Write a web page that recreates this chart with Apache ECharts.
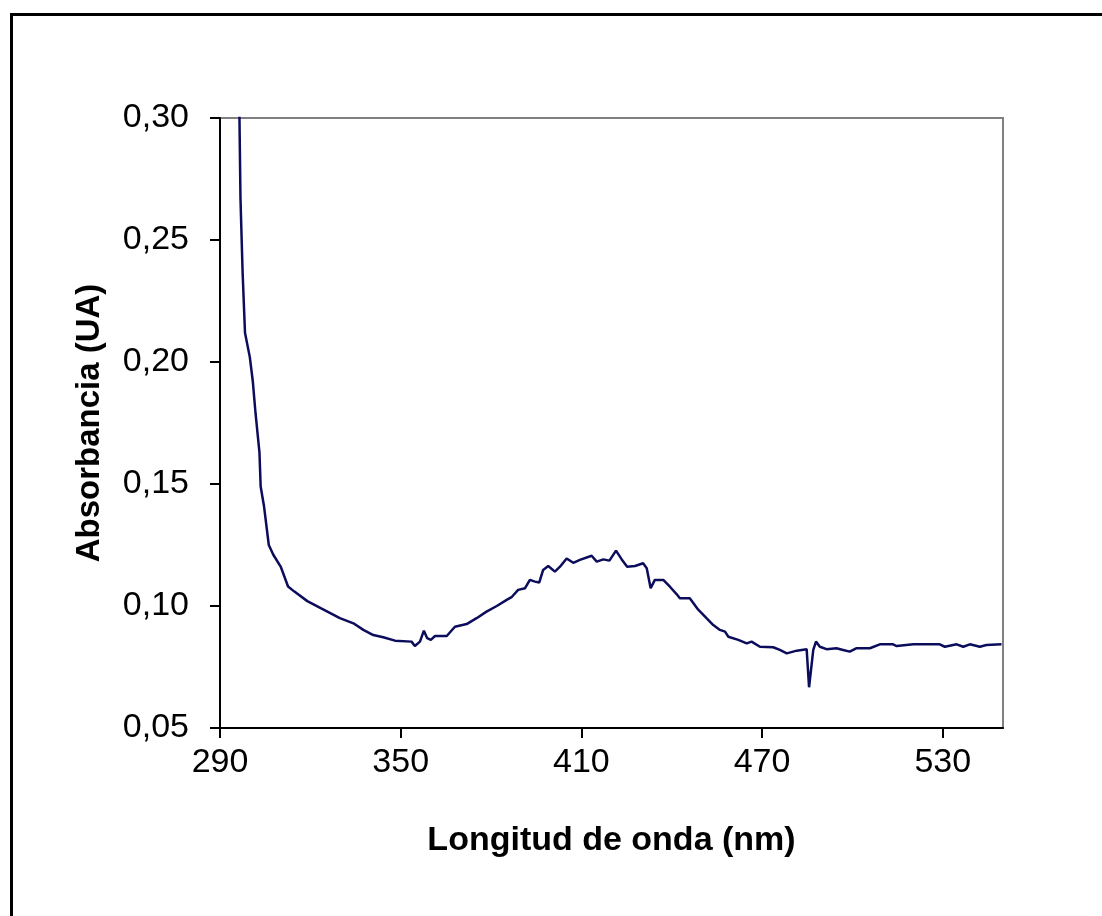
<!DOCTYPE html>
<html>
<head>
<meta charset="utf-8">
<title>Absorbancia</title>
<script src="https://cdn.jsdelivr.net/npm/echarts@6/dist/echarts.min.js"></script>
<style>
  html, body { margin: 0; padding: 0; background: #fff; }
  #chart { width: 1102px; height: 916px; }
</style>
</head>
<body>
<div id="chart"></div>
<script>
// spectrum (nm, UA); the first point is above the axis and gets clipped
const wavelength = [
  296.0, 296.8, 297.5, 298.3, 299.9, 300.9, 301.8, 303.1, 303.5, 304.6,
  306.2, 307.7, 310.2, 312.6, 314.6, 319.0, 323.6, 329.8, 334.3, 337.6,
  340.9, 344.2, 348.1, 353.6, 354.7, 356.4, 357.7, 358.8, 360.0, 361.4,
  365.3, 368.0, 371.9, 375.2, 378.5, 381.9, 385.2, 386.8, 389.0, 391.3,
  392.9, 394.6, 396.0, 397.3, 399.0, 401.2, 402.9, 405.1, 407.3, 409.5,
  413.4, 415.1, 417.3, 419.3, 421.5, 423.4, 425.2, 427.8, 430.5, 431.7,
  433.0, 434.4, 437.2, 439.4, 441.6, 442.7, 446.0, 448.8, 453.8, 456.0,
  457.7, 458.8, 462.1, 464.9, 466.5, 469.3, 473.7, 475.9, 478.2, 481.5,
  484.8, 485.6, 486.2, 487.0, 487.9, 489.2, 491.4, 494.7, 496.9, 499.1,
  501.4, 505.8, 509.1, 513.5, 514.7, 520.2, 529.0, 530.7, 534.6, 536.8,
  539.0, 542.3, 544.5, 549.5
];
const absorbance = [
  0.345, 0.267, 0.237, 0.212, 0.202, 0.192, 0.179, 0.163, 0.149, 0.141,
  0.125, 0.121, 0.116, 0.108, 0.106, 0.102, 0.099, 0.0950, 0.0929, 0.0902,
  0.0881, 0.0872, 0.0858, 0.0854, 0.0836, 0.0854, 0.0899, 0.0868, 0.0861, 0.0877,
  0.0877, 0.0915, 0.0926, 0.0950, 0.0977, 0.1000, 0.1025, 0.1036, 0.1066, 0.1073,
  0.1107, 0.1100, 0.1096, 0.1148, 0.1164, 0.1141, 0.1161, 0.1195, 0.1177, 0.1189,
  0.1206, 0.1182, 0.1191, 0.1186, 0.1227, 0.1191, 0.1161, 0.1164, 0.1175, 0.1155,
  0.1073, 0.1107, 0.1107, 0.1079, 0.1049, 0.1032, 0.1032, 0.0985, 0.0922, 0.0902,
  0.0895, 0.0874, 0.0861, 0.0847, 0.0854, 0.0833, 0.0831, 0.0820, 0.0806, 0.0817,
  0.0823, 0.0667, 0.0667, 0.0820, 0.0854, 0.0833, 0.0823, 0.0827, 0.0820, 0.0813,
  0.0827, 0.0827, 0.0843, 0.0843, 0.0836, 0.0843, 0.0843, 0.0833, 0.0843, 0.0833,
  0.0843, 0.0833, 0.0840, 0.0843
];
const xTicks = [290, 350, 410, 470, 530];
const yTicks = [0.05, 0.10, 0.15, 0.20, 0.25, 0.30];

const FONT = '"Liberation Sans", Arial, sans-serif';

const chart = echarts.init(document.getElementById('chart'));

const option = {
  backgroundColor: '#ffffff',
  animation: false,
  graphic: [
    {
      // outer chart border (right and bottom fall outside the picture)
      type: 'rect',
      shape: { x: 11.5, y: 14.5, width: 1200, height: 1000 },
      style: { fill: 'none', stroke: '#000000', lineWidth: 3 },
      silent: true
    }
  ],
  grid: {
    left: 220,
    right: 99,
    top: 118,
    bottom: 188,
    show: true,
    borderColor: '#808080',
    borderWidth: 2,
    backgroundColor: '#ffffff'
  },
  xAxis: {
    type: 'value',
    min: 290,
    max: 550,
    interval: 60,
    name: 'Longitud de onda (nm)',
    nameLocation: 'middle',
    nameGap: 96,
    nameTextStyle: { fontFamily: FONT, fontSize: 34, fontWeight: 'bold', color: '#000' },
    axisLine: { show: true, lineStyle: { color: '#000', width: 2 } },
    axisTick: { show: true, length: 10, customValues: xTicks, lineStyle: { color: '#000', width: 2 } },
    axisLabel: {
      customValues: xTicks,
      margin: 18,
      fontFamily: FONT,
      fontSize: 34,
      color: '#000'
    },
    splitLine: { show: false }
  },
  yAxis: {
    type: 'value',
    min: 0.05,
    max: 0.30,
    interval: 0.05,
    name: 'Absorbancia (UA)',
    nameLocation: 'middle',
    nameGap: 114,
    nameTextStyle: { fontFamily: FONT, fontSize: 33, fontWeight: 'bold', color: '#000' },
    axisLine: { show: true, lineStyle: { color: '#000', width: 2 } },
    axisTick: { show: true, length: 10, customValues: yTicks, lineStyle: { color: '#000', width: 2 } },
    axisLabel: {
      customValues: yTicks,
      margin: 31,
      fontFamily: FONT,
      fontSize: 34,
      color: '#000',
      formatter: v => v.toFixed(2).replace('.', ',')
    },
    splitLine: { show: false }
  },
  series: [
    {
      name: 'Absorbancia',
      type: 'line',
      data: wavelength.map((w, i) => [w, absorbance[i]]),
      symbol: 'none',
      clip: true,
      lineStyle: { color: '#0c0c5c', width: 2.5 },
      itemStyle: { color: '#0c0c5c' }
    }
  ]
};

chart.setOption(option);
</script>
</body>
</html>
